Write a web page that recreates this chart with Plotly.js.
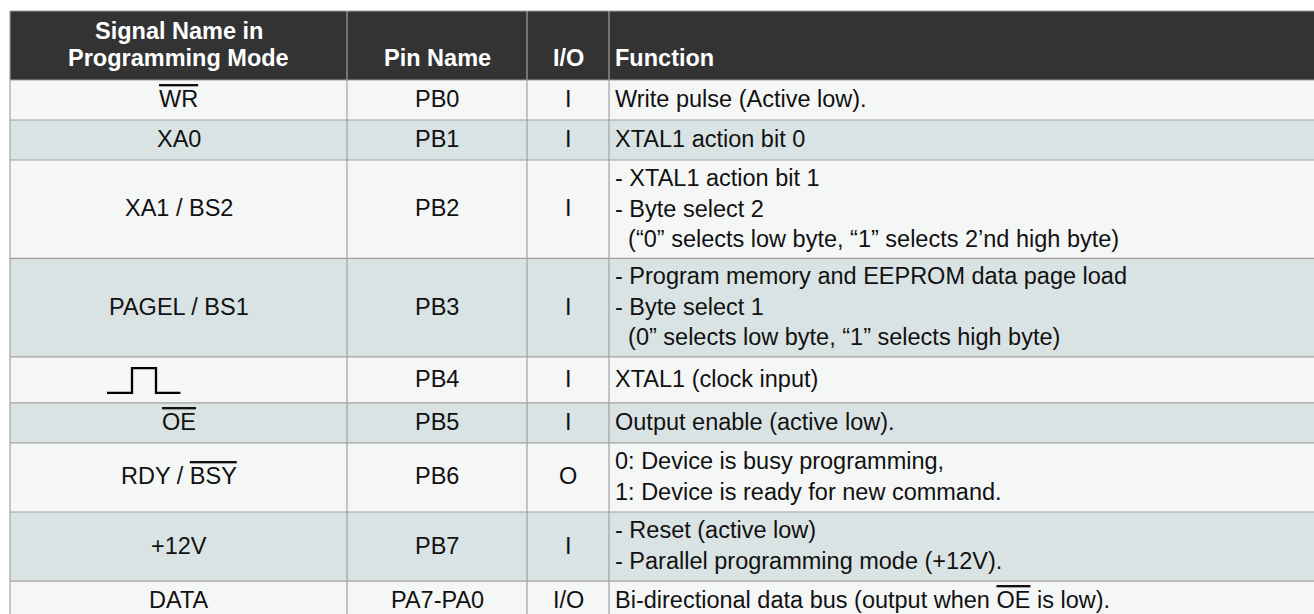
<!DOCTYPE html>
<html><head><meta charset="utf-8">
<script src="https://cdn.plot.ly/plotly-3.0.1.min.js"></script>
<style>html,body{margin:0;padding:0;background:#fff;overflow:hidden}</style>
</head><body><div id="chart" style="width:1314px;height:614px"></div>
<script>
function bar(s){ return '<span style="text-decoration:overline">' + s + '</span>'; }
const CLOCK = "CLOCK";

// ---- table content ----
const headers = ["Signal Name in<br>Programming Mode", "Pin Name", "I/O", "Function"];
const signals = [bar("WR"), "XA0", "XA1 / BS2", "PAGEL / BS1", CLOCK, bar("OE"), "RDY / " + bar("BSY"), "+12V", "DATA"];
const pins = ["PB0", "PB1", "PB2", "PB3", "PB4", "PB5", "PB6", "PB7", "PA7-PA0"];
const ios = ["I", "I", "I", "I", "I", "I", "O", "I", "I/O"];
const functions = [
  "Write pulse (Active low).",
  "XTAL1 action bit 0",
  "- XTAL1 action bit 1<br>- Byte select 2<br>\u00a0\u00a0(\u201c0\u201d selects low byte, \u201c1\u201d selects 2\u2019nd high byte)",
  "- Program memory and EEPROM data page load<br>- Byte select 1<br>\u00a0\u00a0(0\u201d selects low byte, \u201c1\u201d selects high byte)",
  "XTAL1 (clock input)",
  "Output enable (active low).",
  "0: Device is busy programming,<br>1: Device is ready for new command.",
  "- Reset (active low)<br>- Parallel programming mode (+12V).",
  "Bi-directional data bus (output when " + bar("OE") + " is low)."
];

// ---- layout constants ----
const W = 1314, H = 614;
const tableLeft = 10, tableTop = 11, headerH = 69;
const colEdges = [10, 347, 527, 609, W + 10];
const colAlign = ["center", "center", "center", "left"];
const textPad = 5;
const rowPad = 10.8, lineStep = 29.2, glyphExtra = 6;
const FONT = "Liberation Sans, Arial, Helvetica, sans-serif";
const FS = 23.5;
const headerFill = "#333333", fills = ["#f5f7f6", "#dae3e3"], borderCol = "#a0a0a0";

const nLines = s => (s === CLOCK ? 1 : s.split("<br>").length);

// row geometry
const rowsTop = [], rowsH = [];
let yCur = tableTop + headerH;
for (let i = 0; i < pins.length; i++) {
  const n = Math.max(nLines(signals[i]), nLines(pins[i]), nLines(ios[i]), nLines(functions[i]));
  const h = rowPad + lineStep * n + (signals[i] === CLOCK ? glyphExtra : 0);
  rowsTop.push(yCur); rowsH.push(h); yCur += h;
}
const tableBottom = yCur;

const shapes = [];
const annotations = [];
// header background
shapes.push({type: "rect", xref: "x", yref: "y", x0: tableLeft, x1: W + 10, y0: tableTop, y1: tableTop + headerH,
  fillcolor: headerFill, line: {width: 0}, layer: "below"});
// body backgrounds
rowsTop.forEach((t, i) => {
  shapes.push({type: "rect", xref: "x", yref: "y", x0: tableLeft, x1: W + 10, y0: t, y1: t + rowsH[i],
    fillcolor: fills[i % 2], line: {width: 0}, layer: "below"});
});
// horizontal borders
[tableTop, tableTop + headerH].concat(rowsTop.map((t, i) => t + rowsH[i])).forEach(y => {
  shapes.push({type: "line", xref: "x", yref: "y", x0: tableLeft, x1: W + 10, y0: y, y1: y,
    line: {color: borderCol, width: 1.2}});
});
// vertical borders
colEdges.slice(0, 4).forEach(x => {
  shapes.push({type: "line", xref: "x", yref: "y", x0: x, x1: x, y0: tableTop, y1: tableBottom,
    line: {color: borderCol, width: 1.2}});
});

function cellX(c) {
  return colAlign[c] === "left" ? colEdges[c] + textPad : (colEdges[c] + colEdges[c + 1]) / 2;
}

// header text: lines bottom-aligned
const headerBase = tableTop + headerH - 22, headerStep = 27;
headers.forEach((h, c) => {
  const lines = h.split("<br>");
  lines.forEach((ln, k) => {
    annotations.push({xref: "x", yref: "y", x: cellX(c), y: headerBase - (lines.length - 1 - k) * headerStep,
      text: ln, showarrow: false, xanchor: colAlign[c], yanchor: "middle", align: colAlign[c], borderpad: 0,
      font: {family: FONT, size: FS, color: "#ffffff", weight: 700}});
  });
});

// body text
const columns = [signals, pins, ios, functions];
columns.forEach((col, c) => {
  col.forEach((txt, i) => {
    if (txt === CLOCK) return;
    annotations.push({xref: "x", yref: "y", x: cellX(c), y: rowsTop[i] + rowsH[i] / 2 - 1,
      text: txt, showarrow: false, xanchor: colAlign[c], yanchor: "middle", align: colAlign[c], borderpad: 0,
      font: {family: FONT, size: FS, color: "#111111"}});
  });
});

// clock glyph (pulse) for the clock row
const traces = [];
signals.forEach((s, i) => {
  if (s !== CLOCK) return;
  const gx0 = colEdges[0] + 97, seg = [25, 24, 24.4];
  const hi = rowsTop[i] + 11.3, lo = rowsTop[i] + 36;
  const x1 = gx0 + seg[0], x2 = x1 + seg[1], x3 = x2 + seg[2];
  traces.push({type: "scatter", mode: "lines", x: [gx0, x1, x1, x2, x2, x3], y: [lo, lo, hi, hi, lo, lo],
    line: {color: "#000000", width: 2.3}, hoverinfo: "skip", showlegend: false});
});

const layout = {
  width: W, height: H,
  margin: {l: 0, r: 0, t: 0, b: 0, pad: 0},
  paper_bgcolor: "#ffffff", plot_bgcolor: "#ffffff",
  xaxis: {range: [0, W], visible: false, fixedrange: true},
  yaxis: {range: [H, 0], visible: false, fixedrange: true},
  showlegend: false,
  shapes: shapes,
  annotations: annotations
};
Plotly.newPlot("chart", traces, layout, {staticPlot: true, displayModeBar: false});
</script>
</body></html>
